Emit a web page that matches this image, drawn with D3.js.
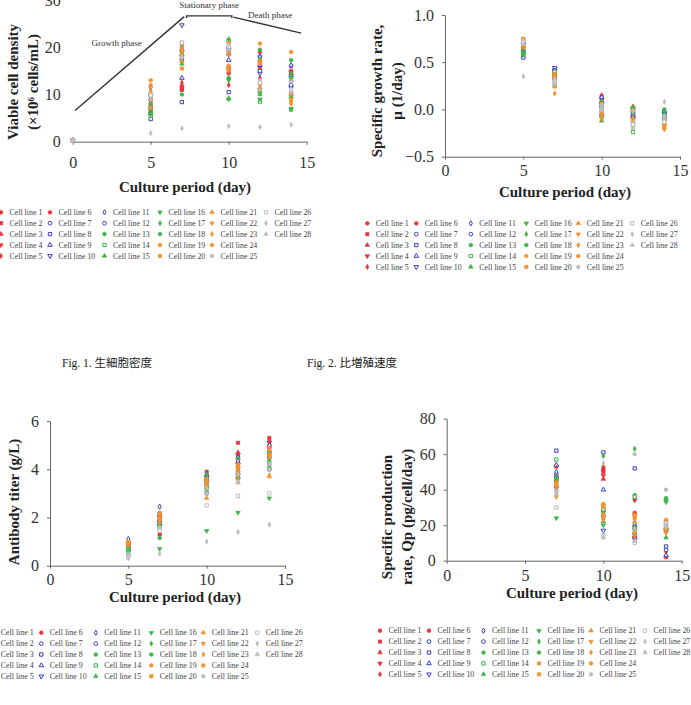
<!DOCTYPE html>
<html>
<head>
<meta charset="utf-8">
<script src="https://cdn.jsdelivr.net/npm/d3@7"></script>
<style>
body { margin: 0; background: #fff; }
text { font-family: "Liberation Serif", "Times New Roman", serif; fill: #222; }
.tick text { font-size: 16px; fill: #333; }
.domain, .tick line { stroke: #666; }
.title { font-size: 15px; font-weight: bold; }
.leg { font-size: 7.9px; fill: #444; }
.note { font-size: 9px; fill: #333; }
.cap { font-size: 11.5px; fill: #222; font-family: "Liberation Serif", "Noto Sans CJK JP", serif; }
</style>
</head>
<body>
<div id="chart"></div>
<script>
// sampling days
var vcdDays = [0, 5, 7, 10, 12, 14];
var days = [5, 7, 10, 12, 14];
var qpDays = [7, 10, 12, 14];
var xTicks = [0, 5, 10, 15];

// viable cell density (x10^6 cells/mL), one row per cell line
var viableDensity = [
  [0.3, 8.0, 11.5, 14.5, 19.0, 15.0],
  [0.3, 7.0, 11.0, 15.0, 16.5, 14.5],
  [0.3, 6.5, 12.0, 16.0, 15.5, 13.0],
  [0.3, 8.5, 18.0, 19.0, 17.0, 14.0],
  [0.3, 7.5, 12.5, 12.0, 13.5, 11.5],
  [0.3, 9.0, 11.0, 15.5, 16.0, 14.8],
  [0.3, 10.0, 19.5, 20.0, 18.0, 16.0],
  [0.3, 4.8, 8.4, 10.5, 11.0, 10.0],
  [0.3, 6.0, 13.5, 17.3, 16.2, 14.0],
  [0.3, 9.5, 24.7, 19.5, 14.5, 11.5],
  [0.3, 11.5, 20.5, 21.0, 18.0, 16.2],
  [0.3, 7.0, 17.5, 18.5, 15.0, 12.0],
  [0.3, 6.0, 10.0, 13.5, 19.5, 17.3],
  [0.3, 5.5, 18.5, 21.5, 8.5, 6.8],
  [0.3, 7.8, 16.5, 9.2, 10.0, 9.5],
  [0.3, 5.8, 19.0, 13.0, 9.0, 7.0],
  [0.3, 8.2, 20.0, 21.7, 17.5, 14.5],
  [0.3, 6.8, 17.0, 9.0, 10.5, 13.5],
  [0.3, 13.0, 20.0, 21.0, 20.8, 19.0],
  [0.3, 7.2, 15.5, 16.0, 17.0, 8.5],
  [0.3, 10.5, 17.0, 18.5, 11.5, 10.0],
  [0.3, 8.8, 19.0, 19.0, 12.0, 9.0],
  [0.3, 11.0, 18.5, 15.0, 11.0, 8.0],
  [0.3, 12.0, 19.8, 15.5, 16.5, 10.5],
  [0.3, 10.0, 21.0, 20.5, 13.0, 12.8],
  [0.3, 9.8, 21.0, 20.0, 12.5, 11.0],
  [0.3, 1.8, 2.8, 3.3, 3.1, 3.6],
  [0.3, 9.0, 18.0, 19.5, 11.0, 10.5]
];

// specific growth rate (1/day)
var growthRate = [
  [0.66, 0.33, 0.12, 0.02, -0.05],
  [0.64, 0.35, 0.10, -0.05, -0.08],
  [0.62, 0.36, 0.08, 0.03, -0.10],
  [0.68, 0.40, 0.05, -0.03, -0.12],
  [0.60, 0.30, 0.15, 0.00, -0.06],
  [0.66, 0.32, 0.14, 0.01, -0.04],
  [0.70, 0.42, 0.02, -0.04, -0.06],
  [0.55, 0.38, 0.07, 0.01, -0.03],
  [0.63, 0.43, 0.13, -0.06, -0.02],
  [0.70, 0.44, -0.07, -0.10, -0.09],
  [0.72, 0.41, 0.01, -0.05, -0.05],
  [0.68, 0.39, 0.04, -0.08, -0.11],
  [0.58, 0.26, 0.06, 0.02, -0.08],
  [0.60, 0.40, 0.03, -0.24, -0.12],
  [0.62, 0.31, -0.12, 0.00, -0.04],
  [0.58, 0.37, -0.09, -0.18, -0.11],
  [0.64, 0.34, 0.09, -0.04, -0.10],
  [0.61, 0.25, -0.02, 0.02, 0.00],
  [0.75, 0.29, 0.06, -0.01, -0.20],
  [0.66, 0.36, -0.03, -0.12, -0.18],
  [0.69, 0.24, 0.00, -0.13, -0.15],
  [0.73, 0.38, -0.10, -0.15, -0.17],
  [0.71, 0.17, -0.06, -0.09, -0.21],
  [0.74, 0.33, -0.04, -0.11, -0.16],
  [0.73, 0.27, 0.05, -0.14, -0.07],
  [0.71, 0.30, 0.00, -0.16, -0.13],
  [0.35, 0.32, 0.02, -0.02, 0.08],
  [0.69, 0.28, -0.01, -0.20, -0.09]
];

// antibody titer (g/L)
var antibodyTiter = [
  [0.80, 1.80, 3.50, 4.30, 5.00],
  [0.90, 1.30, 3.90, 5.10, 5.30],
  [0.70, 1.90, 3.60, 4.70, 5.20],
  [0.85, 2.00, 3.70, 4.60, 5.10],
  [0.60, 1.60, 3.30, 4.00, 4.80],
  [0.75, 1.70, 3.20, 4.40, 4.60],
  [0.95, 2.10, 3.40, 3.80, 4.90],
  [0.80, 1.85, 3.70, 4.50, 4.50],
  [0.70, 1.75, 3.70, 3.70, 5.00],
  [0.90, 2.00, 3.50, 4.20, 4.70],
  [1.10, 2.45, 3.80, 4.35, 4.20],
  [0.65, 1.90, 3.00, 3.90, 4.00],
  [0.60, 1.15, 3.10, 3.80, 4.10],
  [0.70, 1.60, 3.30, 4.10, 4.30],
  [0.80, 1.70, 3.60, 4.45, 4.70],
  [0.40, 0.70, 1.45, 2.20, 2.80],
  [0.75, 1.95, 3.80, 4.00, 4.40],
  [0.50, 1.50, 3.20, 3.60, 4.00],
  [0.90, 2.20, 3.50, 4.10, 4.60],
  [0.95, 2.00, 3.40, 3.90, 4.80],
  [0.85, 1.80, 2.80, 3.45, 3.70],
  [1.00, 2.15, 3.60, 4.00, 4.90],
  [0.88, 2.10, 3.30, 3.70, 3.75],
  [0.92, 1.90, 3.50, 4.20, 4.50],
  [0.45, 1.55, 3.00, 3.50, 4.00],
  [0.35, 1.45, 2.50, 2.90, 3.00],
  [0.30, 0.50, 1.00, 1.40, 1.70],
  [0.50, 1.60, 3.20, 3.80, 4.20]
];

// specific production rate Qp (pg/cell/day)
var productionRate = [
  [46, 52, 26, 17],
  [53, 50, 35, 2],
  [48, 46, 14, 19],
  [44, 48, 13, 16],
  [43, 53, 34, 5],
  [45, 51, 27, 18],
  [49, 28, 18, 22],
  [62, 61, 52, 8],
  [54, 40, 20, 3],
  [41, 17, 12, 17],
  [50, 30, 21, 20],
  [47, 25, 15, 6],
  [46, 27, 37, 34],
  [57, 29, 36, 35],
  [45, 22, 16, 13],
  [24, 20, 17, 33],
  [47, 59, 63, 35],
  [46, 31, 19, 18],
  [42, 32, 25, 23],
  [44, 24, 24, 20],
  [40, 30, 22, 21],
  [36, 31, 26, 16],
  [38, 23, 14, 19],
  [43, 26, 16, 18],
  [39, 15, 60, 40],
  [30, 14, 10, 21],
  [38, 55, 18, 19],
  [37, 13, 11, 20]
];

// phase annotations on Fig. 1 (day, density)
var growthPhaseLine = [[0.15, 6.6], [7.15, 26.5]];
var stationaryBracket = [[7.3, 26.2], [7.3, 26.65], [10.2, 26.65], [10.2, 26.2]];
var deathPhaseLine = [[10.3, 26.4], [14.65, 23.0]];
var phaseLabels = [
  {text: "Growth phase", day: 2.82, value: 21.0},
  {text: "Stationary phase", day: 8.75, value: 28.9},
  {text: "Death phase", day: 12.65, value: 26.9}
];

var lineNames = d3.range(1, 29).map(i => "Cell line " + i);

// marker styles
var groupColor = ["#e8323c", "#3c3cc6", "#3cb449", "#f3922e", "#bdbdbd"];
var lineColor = lineNames.map((d, i) => groupColor[Math.min(Math.floor(i / 6), 4)]);
var lineShape = ["circle", "square", "triangle", "triDown", "diamond", "circle",
  "circle", "square", "triangle", "triDown", "diamond", "circle",
  "circle", "square", "triangle", "triDown", "diamond", "circle",
  "circle", "square", "triangle", "triDown", "diamond", "circle",
  "circle", "square", "diamond", "triangle"];
var lineOpen = lineNames.map((d, i) => (i >= 6 && i < 12) || i == 25 || i == 13);

var symbolTypes = {
  circle: d3.symbolCircle, square: d3.symbolSquare, triangle: d3.symbolTriangle,
  triDown: d3.symbolTriangle, diamond: d3.symbolDiamond
};
var symbolSize = {circle: 11, square: 11, triangle: 9, triDown: 9, diamond: 8};

var svg = d3.select("#chart").append("svg")
  .attr("width", 691)
  .attr("height", 705);

function marker(sel) {
  sel.attr("d", d => d3.symbol().type(symbolTypes[lineShape[d.line]]).size(symbolSize[lineShape[d.line]])())
    .attr("fill", d => lineOpen[d.line] ? "#fff" : lineColor[d.line])
    .attr("stroke", d => lineColor[d.line])
    .attr("stroke-width", d => lineOpen[d.line] ? 1 : 0.6);
}

function drawPanel(p) {
  var x = d3.scaleLinear().domain([0, 15]).range([p.x0, p.x1]);
  var y = d3.scaleLinear().domain(p.yDomain).range([p.yBottom, p.yTop]);
  var g = svg.append("g");

  g.append("g")
    .attr("transform", `translate(0, ${p.yBottom})`)
    .call(d3.axisBottom(x).tickValues(xTicks).tickSize(3).tickSizeOuter(0).tickPadding(p.xPad));

  var leftAxis = g.append("g")
    .attr("transform", `translate(${p.x0}, 0)`)
    .call(d3.axisLeft(y).tickValues(p.yTicks).tickFormat(p.yFormat).tickSize(p.hideY ? 0 : 3).tickSizeOuter(0).tickPadding(p.hideY ? 12 : 8));
  if (p.hideY) leftAxis.select(".domain").remove();

  // points
  var records = [];
  p.values.forEach(function(row, i) {
    row.forEach(function(v, j) {
      records.push({line: i, day: p.days[j], value: v});
    });
  });
  g.selectAll("path.pt")
    .data(records)
    .join("path")
    .attr("class", "pt")
    .attr("transform", d => `translate(${x(d.day)}, ${y(d.value)})` + (lineShape[d.line] == "triDown" ? " rotate(180)" : ""))
    .call(marker);

  // axis titles
  g.append("text")
    .attr("class", "title")
    .attr("x", p.xTitle[0])
    .attr("y", p.xTitle[1])
    .attr("text-anchor", "middle")
    .text("Culture period (day)");

  p.yTitle.forEach(function(t) {
    g.append("text")
      .attr("class", "title")
      .attr("transform", `translate(${t.x}, ${p.yTitleMid}) rotate(-90)`)
      .attr("text-anchor", "middle")
      .attr("dy", "0.35em")
      .text(t.text);
  });

  return {x: x, y: y, g: g};
}

function drawLegend(x0, y0) {
  var colOffset = [0, 49, 103.5, 159, 211, 265];
  var items = lineNames.map((name, i) => ({line: i, name: name}));
  var leg = svg.append("g");
  var row = leg.selectAll("g")
    .data(items)
    .join("g")
    .attr("transform", d => `translate(${x0 + colOffset[Math.floor(d.line / 5)]}, ${y0 + (d.line % 5) * 10.9})`);
  row.append("path")
    .attr("transform", d => lineShape[d.line] == "triDown" ? "rotate(180)" : null)
    .call(marker);
  row.append("text")
    .attr("class", "leg")
    .attr("x", 8.5)
    .attr("dy", "0.35em")
    .text(d => d.name);
}

// Fig. 1 viable cell density
var p1 = drawPanel({
  x0: 72.7, x1: 306.7, yBottom: 141.7, yTop: 0.1, yDomain: [0, 30],
  yTicks: [0, 10, 20, 30], yFormat: d3.format("d"), hideY: true, xPad: 12,
  values: viableDensity, days: vcdDays,
  xTitle: [185, 192],
  yTitle: [{text: "Viable cell density", x: 13}, {text: "(×10⁶ cells/mL)", x: 33}],
  yTitleMid: 82
});

var annot = p1.g.append("g");
var phaseLine = d3.line().x(d => p1.x(d[0])).y(d => p1.y(d[1]));
[growthPhaseLine, stationaryBracket, deathPhaseLine].forEach(function(pts) {
  annot.append("path")
    .attr("d", phaseLine(pts))
    .attr("fill", "none")
    .attr("stroke", "#333")
    .attr("stroke-width", 1.4);
});
annot.selectAll("text")
  .data(phaseLabels)
  .join("text")
  .attr("class", "note")
  .attr("x", d => p1.x(d.day))
  .attr("y", d => p1.y(d.value))
  .attr("dy", "0.35em")
  .attr("text-anchor", "middle")
  .text(d => d.text);

// Fig. 2 specific growth rate
drawPanel({
  x0: 445, x1: 680, yBottom: 156.7, yTop: 15, yDomain: [-0.5, 1.0],
  yTicks: [-0.5, 0, 0.5, 1.0], yFormat: d3.format(".1f"), xPad: 5,
  values: growthRate, days: days,
  xTitle: [565, 197],
  yTitle: [{text: "Specific growth rate,", x: 377}, {text: "μ (1/day)", x: 397}],
  yTitleMid: 91
});

// antibody titer
drawPanel({
  x0: 50, x1: 285, yBottom: 565.7, yTop: 421.1, yDomain: [0, 6],
  yTicks: [0, 2, 4, 6], yFormat: d3.format("d"), xPad: 5,
  values: antibodyTiter, days: days,
  xTitle: [175, 602],
  yTitle: [{text: "Antibody titer (g/L)", x: 14}],
  yTitleMid: 502
});

// specific production rate
drawPanel({
  x0: 446.7, x1: 681.7, yBottom: 560.7, yTop: 418.7, yDomain: [0, 80],
  yTicks: [0, 20, 40, 60, 80], yFormat: d3.format("d"), xPad: 6,
  values: productionRate, days: qpDays,
  xTitle: [572, 598],
  yTitle: [{text: "Specific production", x: 387}, {text: "rate, Qp (pg/cell/day)", x: 407}],
  yTitleMid: 517
});

drawLegend(1, 212.3);
drawLegend(367.3, 223.3);
drawLegend(-7.7, 632.7);
drawLegend(380, 630.7);

// captions
svg.append("text").attr("class", "cap").attr("x", 62).attr("y", 367).text("Fig. 1.  生細胞密度");
svg.append("text").attr("class", "cap").attr("x", 307).attr("y", 367).text("Fig. 2.  比増殖速度");
</script>
</body>
</html>
